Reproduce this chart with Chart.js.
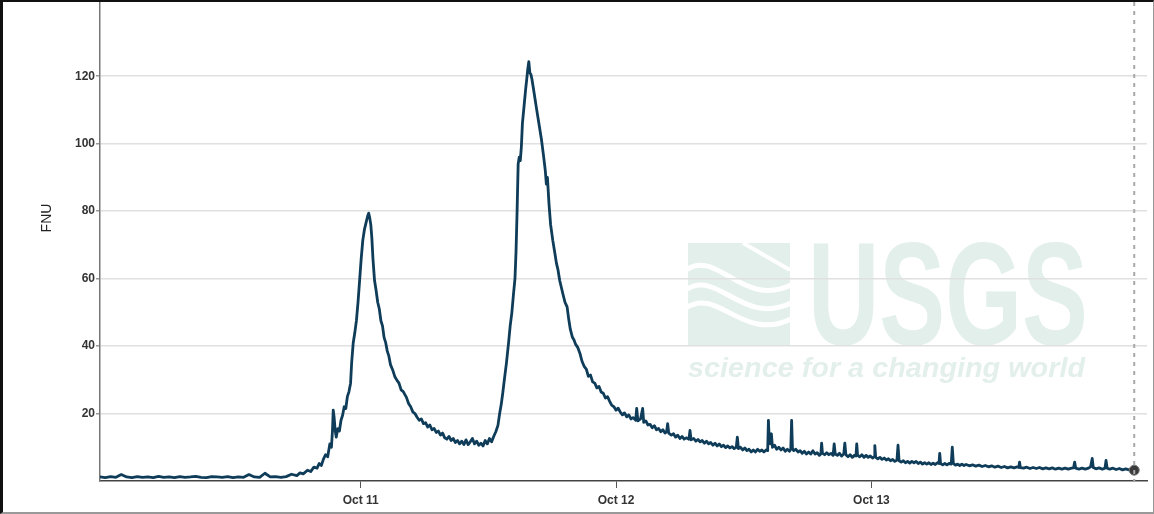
<!DOCTYPE html>
<html>
<head>
<meta charset="utf-8">
<script src="https://cdn.jsdelivr.net/npm/chart.js@4/dist/chart.umd.min.js"></script>
<style>
  html, body { margin: 0; padding: 0; background: #fff; }
  #wrap {
    position: absolute; left: 0; top: 0;
    width: 1150px; height: 510px;
    border-left: 3px solid #111; border-top: 2px solid #111;
    border-right: 1px solid #999; border-bottom: 2px solid #999;
  }
</style>
</head>
<body>
<div id="wrap"><canvas id="myChart" width="1150" height="510"></canvas></div>
<script>
// turbidity readings, hours counted from Oct 10 00:00
const hours = [
  -0.5, 0, 0.5, 1, 1.5, 2, 2.5, 3, 3.5, 4,
  4.5, 5, 5.5, 6, 6.5, 7, 7.5, 8, 8.5, 9,
  9.5, 10, 10.5, 11, 11.5, 12, 12.5, 13, 13.5, 14,
  14.5, 15, 15.5, 16, 16.5,
  17, 17.5, 18, 18.3, 18.6, 19, 19.3, 19.6, 19.9, 20.1,
  20.3, 20.5, 20.7, 20.9, 21.1, 21.25, 21.35, 21.42, 21.5, 21.6,
  21.7, 21.85, 22.0, 22.15, 22.3, 22.45, 22.6, 22.75, 22.9, 23.05,
  23.15, 23.3, 23.45, 23.6, 23.75, 23.9, 24.05, 24.2, 24.35, 24.5,
  24.65, 24.75, 24.85, 24.95, 25.05, 25.15, 25.3, 25.45, 25.6, 25.75,
  25.9, 26.05, 26.2, 26.35, 26.5, 26.65, 26.8, 27.0, 27.2, 27.4,
  27.6, 27.8, 28.0, 28.3, 28.5, 28.7, 28.9, 29.1, 29.3, 29.5,
  29.7, 29.9, 30.1, 30.3, 30.5, 30.7, 30.9, 31.1, 31.3, 31.5,
  31.7, 31.9, 32.1, 32.3, 32.5, 32.7, 32.9, 33.1, 33.3, 33.5,
  33.7, 33.9, 34.1, 34.3, 34.5, 34.7, 34.9, 35.1, 35.3, 35.5,
  35.7, 35.9, 36.1, 36.3, 36.5, 36.7, 36.9, 37.06, 37.2, 37.35,
  37.5, 37.7, 37.9, 38.05, 38.2, 38.35, 38.5, 38.6, 38.7, 38.8,
  38.9, 39.0, 39.1, 39.2, 39.35, 39.5, 39.6, 39.7, 39.8, 39.9,
  40.0, 40.1, 40.3, 40.5, 40.75, 41.0, 41.2, 41.35, 41.45, 41.55,
  41.7, 41.85, 42.05, 42.25, 42.4, 42.55, 42.7, 42.85, 43.0, 43.2,
  43.4, 43.55, 43.7, 43.9, 44.05, 44.2, 44.4, 44.6, 44.8, 45.0,
  45.2, 45.4, 45.6, 45.8, 46.0, 46.2, 46.4, 46.6, 46.8, 47.0,
  47.2, 47.4, 47.6, 47.8, 48.0, 48.2, 48.4, 48.6, 48.8, 49.0,
  49.2, 49.4, 49.6, 49.85, 49.94, 50.05, 50.3, 50.5, 50.6, 50.8,
  51.0, 51.2, 51.4, 51.6, 51.8, 52.0, 52.2, 52.4, 52.6, 52.75,
  52.85, 52.95, 53.2, 53.4, 53.6, 53.8, 54.0, 54.2, 54.4, 54.6,
  54.85, 54.95, 55.05, 55.3, 55.5, 55.7, 55.9, 56.1, 56.3, 56.5,
  56.7, 56.9, 57.1, 57.3, 57.5, 57.7, 57.9, 58.1, 58.3, 58.5,
  58.7, 58.9, 59.1, 59.3, 59.4, 59.5, 59.7, 59.9, 60.1, 60.3,
  60.5, 60.7, 60.9, 61.1, 61.3, 61.5, 61.7, 61.9, 62.1, 62.25,
  62.32, 62.4, 62.5, 62.6, 62.7, 62.9, 63.1, 63.3, 63.5, 63.7,
  63.9, 64.1, 64.3, 64.42, 64.5, 64.58, 64.7, 64.9, 65.1, 65.3,
  65.5, 65.7, 65.9, 66.1, 66.3, 66.5, 66.7, 66.9, 67.1, 67.25,
  67.32, 67.4, 67.6, 67.8, 68.0, 68.2, 68.4, 68.5, 68.6, 68.8,
  69.0, 69.2, 69.4, 69.5, 69.6, 69.8, 70.0, 70.2, 70.4, 70.55,
  70.62, 70.7, 70.9, 71.1, 71.3, 71.5, 71.7, 71.9, 72.1, 72.25,
  72.32, 72.4, 72.6, 72.8, 73.0, 73.2, 73.4, 73.6, 73.8, 74.0,
  74.2, 74.4, 74.5, 74.6, 74.8, 75.0, 75.2, 75.4, 75.6, 75.8,
  76.0, 76.2, 76.4, 76.6, 76.8, 77.0, 77.2, 77.4, 77.6, 77.8,
  78.0, 78.2, 78.35, 78.42, 78.5, 78.7, 78.9, 79.1, 79.3, 79.5,
  79.6, 79.7, 79.9, 80.1, 80.3, 80.5, 80.7, 80.9, 81.2, 81.5,
  81.8, 82.1, 82.4, 82.7, 83.0, 83.3, 83.6, 83.9, 84.2, 84.5,
  84.8, 85.1, 85.4, 85.7, 85.85, 85.92, 86.0, 86.3, 86.6, 86.9,
  87.2, 87.5, 87.8, 88.1, 88.4, 88.7, 89.0, 89.3, 89.6, 89.9,
  90.2, 90.5, 90.8, 91.0, 91.1, 91.2, 91.5, 91.8, 92.1, 92.4,
  92.6, 92.75, 92.85, 93.1, 93.4, 93.7, 93.95, 94.05, 94.15, 94.4,
  94.7, 95.0, 95.3, 95.6, 95.9, 96.2, 96.5, 96.7
];
const fnu = [
  1.2, 1.0, 1.3, 1.1, 1.9, 1.2, 1.0, 1.3, 1.1, 1.2,
  1.0, 1.4, 1.1, 1.2, 1.0, 1.3, 1.1, 1.2, 1.4, 1.1,
  1.0, 1.3, 1.2, 1.1, 1.3, 1.0, 1.2, 1.1, 1.9, 1.2,
  1.1, 2.3, 1.2, 1.3, 1.1,
  1.3, 2.0, 1.6, 2.4, 2.1, 3.2, 2.8, 4.1, 3.8, 5.2,
  4.6, 6.5, 7.8, 7.2, 11.0, 10.0, 15.0, 21.0, 19.0, 15.0,
  13.0, 15.5, 14.8, 18.0, 19.5, 22.0, 21.5, 25.0, 26.5, 29.0,
  35.0, 41.0, 44.0, 47.6, 53.0, 59.5, 66.0, 71.4, 74.5, 76.5,
  78.5, 79.4, 78.0, 76.0, 72.0, 66.0, 59.5, 56.5, 53.0, 51.0,
  47.5, 46.0, 42.5, 41.0, 38.5, 37.0, 34.5, 33.0, 31.0, 29.9,
  29.0, 27.0, 26.5, 24.8, 23.0, 22.0, 20.5, 20.0, 18.9, 18.0,
  18.4, 17.0, 17.3, 16.0, 16.6, 15.2, 15.6, 14.4, 14.8, 13.6,
  14.2, 12.8, 12.4, 13.2, 12.0, 12.6, 11.4, 12.0, 11.0, 11.8,
  10.8, 12.2, 10.8, 11.6, 12.6, 11.0, 11.8, 10.6, 11.2, 10.4,
  12.0, 11.0, 12.6, 11.6, 13.2, 14.6, 16.5, 20.0, 22.5, 26.0,
  30.0, 35.0, 41.0, 46.0, 49.7, 55.0, 60.0, 68.0, 80.0, 94.0,
  96.0, 95.0, 99.0, 106.0, 111.0, 116.0, 118.9, 122.0, 124.3, 121.0,
  120.5, 119.0, 115.0, 110.9, 106.0, 101.0, 96.0, 92.0, 88.0, 90.0,
  82.0, 76.0, 71.4, 67.5, 64.5, 62.5, 59.5, 57.5, 55.5, 53.0,
  51.6, 48.0, 45.0, 42.6, 41.8, 40.5, 39.6, 37.9, 35.5, 34.0,
  33.2, 31.0, 31.4, 29.4, 29.0, 27.6, 28.0, 26.4, 26.0, 24.6,
  25.0, 23.6, 22.4, 22.0, 21.0, 21.6, 20.4, 19.6, 20.2, 19.0,
  19.6, 18.4, 18.8, 18.0, 21.5, 17.8, 18.4, 21.5, 17.4, 17.8,
  16.6, 16.8, 15.8, 16.4, 15.2, 15.6, 14.6, 15.2, 14.2, 14.6,
  17.0, 14.2, 13.6, 14.0, 13.0, 13.6, 12.6, 13.2, 12.4, 12.8,
  12.4, 15.0, 12.2, 12.6, 11.8, 12.3, 11.6, 12.0, 11.2, 11.8,
  11.0, 11.4, 10.6, 11.2, 10.4, 11.0, 10.2, 10.6, 9.9, 10.4,
  9.8, 10.2, 9.6, 10.0, 13.0, 9.6, 10.0, 9.2, 9.8, 9.0,
  9.4, 8.6, 9.2, 8.6, 9.4, 8.8, 9.2, 8.6, 9.2, 9.0,
  18.0, 12.0, 11.0, 14.0, 10.0, 10.6, 9.4, 10.0, 9.2, 9.8,
  8.8, 9.4, 8.8, 9.4, 18.0, 9.6, 9.0, 9.4, 8.6, 9.0,
  8.2, 8.8, 8.0, 8.6, 8.0, 9.0, 8.0, 8.4, 7.6, 8.0,
  11.2, 8.2, 7.8, 8.4, 7.8, 8.2, 7.6, 11.0, 8.0, 7.6,
  8.2, 7.4, 8.0, 11.2, 7.8, 7.2, 7.8, 7.0, 7.6, 7.4,
  11.0, 7.6, 7.2, 7.8, 7.0, 7.6, 7.0, 7.4, 6.8, 7.2,
  10.5, 7.0, 6.6, 7.0, 6.4, 6.8, 6.2, 6.6, 6.0, 6.4,
  5.8, 6.2, 10.6, 6.0, 5.6, 6.0, 5.4, 5.8, 5.3, 5.8,
  5.4, 5.8, 5.2, 5.6, 5.0, 5.4, 5.0, 5.4, 4.9, 5.3,
  4.9, 5.4, 5.2, 8.2, 5.2, 4.8, 5.2, 4.8, 5.2, 5.0,
  10.0, 5.2, 4.7, 5.0, 4.6, 5.0, 4.6, 4.9, 4.5, 4.8,
  4.4, 4.7, 4.3, 4.6, 4.2, 4.5, 4.1, 4.4, 4.0, 4.3,
  3.9, 4.2, 3.9, 4.2, 4.0, 5.6, 4.0, 3.8, 4.1, 3.7,
  4.0, 3.7, 4.0, 3.6, 3.9, 3.6, 3.9, 3.5, 3.8, 3.5,
  3.8, 3.5, 3.8, 3.9, 5.6, 3.8, 3.5, 3.8, 3.5, 3.8,
  4.2, 6.7, 4.0, 3.6, 3.9, 3.5, 3.8, 6.1, 3.8, 3.5,
  3.8, 3.4, 3.7, 3.3, 3.6, 3.3, 3.5, 3.2
];
const dayTicks = [24, 48, 72];
const dayLabels = ['Oct 11', 'Oct 12', 'Oct 13'];
const yTicks = [20, 40, 60, 80, 100, 120];

const tickFont = { family: 'Liberation Sans, Arial, sans-serif', size: 12, weight: 'bold' };
const lastIdx = fnu.length - 1;
const noPad = () => ({ left: 0, top: 0, right: 0, bottom: 0 });

// USGS watermark behind the grid, dashed "now" line and y title on top
const watermark = {
  id: 'watermark',
  beforeDraw(chart) {
    const c = chart.ctx;
    c.save();
    c.fillStyle = '#e3efeb';
    c.fillRect(685, 241, 102, 102);
    c.strokeStyle = '#ffffff';
    c.lineWidth = 5;
    [[268, 300], [288, 318], [306, 334]].forEach(([y0, y1]) => {
      c.beginPath();
      c.moveTo(683, y0);
      c.bezierCurveTo(715, y0 - 22, 740, y1 + 8, 790, y1 - 18);
      c.stroke();
    });
    c.lineWidth = 4;
    c.beginPath();
    c.moveTo(740, 241);
    c.lineTo(787, 268);
    c.stroke();
    c.font = 'bold 146px Liberation Sans, Arial, sans-serif';
    c.textBaseline = 'alphabetic';
    let w = c.measureText('USGS').width;
    c.save();
    c.translate(805, 343);
    c.scale(280 / w, 1);
    c.fillText('USGS', 0, 0);
    c.restore();
    c.font = 'italic bold 27px Liberation Sans, Arial, sans-serif';
    w = c.measureText('science for a changing world').width;
    c.save();
    c.translate(685, 375);
    c.scale(397 / w, 1);
    c.fillText('science for a changing world', 0, 0);
    c.restore();
    c.restore();
  },
  afterDraw(chart) {
    const c = chart.ctx;
    const a = chart.chartArea;
    const px = chart.scales.x.getPixelForValue(hours[lastIdx]);
    c.save();
    c.strokeStyle = '#a8a8a8';
    c.lineWidth = 2;
    c.setLineDash([4, 5]);
    c.beginPath();
    c.moveTo(px, a.top);
    c.lineTo(px, a.bottom);
    c.stroke();
    c.restore();
    c.save();
    c.translate(44, 216);
    c.rotate(-Math.PI / 2);
    c.font = '14px Liberation Sans, Arial, sans-serif';
    c.fillStyle = '#222';
    c.textAlign = 'center';
    c.textBaseline = 'middle';
    c.fillText('FNU', 0, 0);
    c.restore();
  }
};

const ctx = document.getElementById('myChart').getContext('2d');
const myChart = new Chart(ctx, {
  type: 'line',
  data: {
    datasets: [{
      label: 'FNU',
      data: hours.map((h, i) => ({ x: h, y: fnu[i] })),
      borderColor: '#0e3c59',
      borderWidth: 2.8,
      borderJoinStyle: 'round',
      borderCapStyle: 'round',
      tension: 0,
      pointRadius: c => (c.dataIndex === lastIdx ? 5 : 0),
      pointBackgroundColor: '#3a3a3a',
      pointBorderColor: '#777',
      pointBorderWidth: 1
    }]
  },
  options: {
    responsive: false,
    animation: false,
    layout: { autoPadding: false, padding: { top: 0, right: 6, bottom: 0, left: 0 } },
    scales: {
      x: {
        type: 'linear',
        min: -0.5,
        max: 97.9,
        afterBuildTicks: s => { s.ticks = dayTicks.map(v => ({ value: v })); },
        afterFit: s => { s.height = 31; s.getPadding = noPad; },
        ticks: {
          font: tickFont,
          color: '#333',
          padding: 5,
          maxRotation: 0,
          autoSkip: false,
          callback: v => dayLabels[dayTicks.indexOf(v)]
        },
        grid: { drawOnChartArea: false, tickLength: 7, tickColor: '#555', tickWidth: 1 },
        border: { color: '#444', width: 1.5 }
      },
      y: {
        min: 0,
        max: 142,
        afterBuildTicks: s => { s.ticks = yTicks.map(v => ({ value: v })); },
        afterFit: s => { s.width = 97; s.getPadding = noPad; },
        ticks: { font: tickFont, color: '#333', padding: 1 },
        grid: { color: '#e0e0e0', lineWidth: 1.5, tickLength: 4, tickColor: '#999' },
        border: { color: '#777', width: 1.5 }
      }
    },
    plugins: {
      legend: { display: false },
      tooltip: { enabled: false }
    }
  },
  plugins: [watermark]
});
</script>
</body>
</html>
